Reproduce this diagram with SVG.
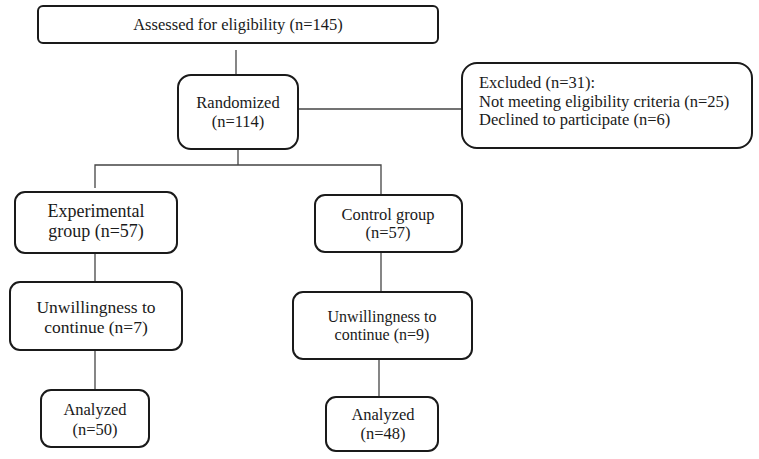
<svg xmlns="http://www.w3.org/2000/svg" width="759" height="459" viewBox="0 0 759 459">
<style>
.box{fill:#fff;stroke:#1a1a1a;stroke-width:2}
.t{font-family:"Liberation Serif","Times New Roman",serif;font-size:16.5px;fill:#1a1a1a;text-anchor:middle}
.tl{text-anchor:start}
.c{fill:none;stroke:#444;stroke-width:1.3}
</style>
<rect width="759" height="459" fill="#fff"/>
<g id="connectors">
<line class="c" x1="236" y1="50" x2="236" y2="75"/>
<line class="c" x1="298" y1="109" x2="462" y2="109"/>
<line class="c" x1="238" y1="149" x2="238" y2="165"/>
<polyline class="c" points="95,188 95,165 381,165 381,195"/>
<line class="c" x1="95" y1="253" x2="95" y2="282"/>
<line class="c" x1="95" y1="350" x2="95" y2="390"/>
<line class="c" x1="381" y1="252" x2="381" y2="292"/>
<line class="c" x1="379" y1="359" x2="379" y2="397"/>
</g>
<g id="assessed">
<rect class="box" x="38" y="6" width="400" height="37" rx="5"/>
<text class="t" x="238" y="30">Assessed for eligibility (n=145)</text>
</g>
<g id="randomized">
<rect class="box" x="178" y="75" width="120" height="74" rx="13"/>
<text class="t" x="238" y="108">Randomized</text>
<text class="t" x="238" y="127">(n=114)</text>
</g>
<g id="excluded">
<rect class="box" x="462" y="63" width="290" height="85" rx="15"/>
<text class="t tl" x="479" y="88">Excluded (n=31):</text>
<text class="t tl" x="479" y="107">Not meeting eligibility criteria (n=25)</text>
<text class="t tl" x="479" y="125">Declined to participate (n=6)</text>
</g>
<g id="experimental">
<rect class="box" x="15" y="192" width="162" height="61" rx="10"/>
<text class="t" x="96" y="217" style="font-size:18px">Experimental</text>
<text class="t" x="96" y="237" style="font-size:18px">group (n=57)</text>
</g>
<g id="unwilling-exp">
<rect class="box" x="10" y="282" width="172" height="68" rx="10"/>
<text class="t" x="96" y="313" style="font-size:17.5px">Unwillingness to</text>
<text class="t" x="96" y="333" style="font-size:17.5px">continue (n=7)</text>
</g>
<g id="analyzed-exp">
<rect class="box" x="41" y="390" width="108" height="57" rx="10"/>
<text class="t" x="95" y="415">Analyzed</text>
<text class="t" x="95" y="435">(n=50)</text>
</g>
<g id="control">
<rect class="box" x="315" y="195" width="147" height="57" rx="10"/>
<text class="t" x="388" y="220">Control group</text>
<text class="t" x="388" y="238">(n=57)</text>
</g>
<g id="unwilling-ctrl">
<rect class="box" x="293" y="292" width="179" height="67" rx="10"/>
<text class="t" x="382" y="322" style="font-size:16px">Unwillingness to</text>
<text class="t" x="382" y="340" style="font-size:16px">continue (n=9)</text>
</g>
<g id="analyzed-ctrl">
<rect class="box" x="326" y="397" width="112" height="54" rx="10"/>
<text class="t" x="383" y="420">Analyzed</text>
<text class="t" x="383" y="439">(n=48)</text>
</g>
</svg>
